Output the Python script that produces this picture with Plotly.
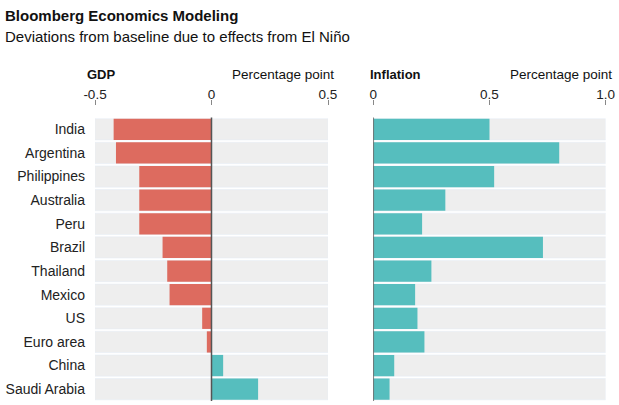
import plotly.graph_objects as go

countries = ["India", "Argentina", "Philippines", "Australia", "Peru", "Brazil",
             "Thailand", "Mexico", "US", "Euro area", "China", "Saudi Arabia"]
gdp = [-0.42, -0.41, -0.31, -0.31, -0.31, -0.21, -0.19, -0.18, -0.04, -0.02, 0.05, 0.20]
inflation = [0.50, 0.80, 0.52, 0.31, 0.21, 0.73, 0.25, 0.18, 0.19, 0.22, 0.09, 0.07]

gdp_range = [-0.5, 0.5]
infl_range = [0.0, 1.0]
gdp_ticks = [-0.5, 0, 0.5]
gdp_ticktext = ["-0.5", "0", "0.5"]
infl_ticks = [0, 0.5, 1.0]
infl_ticktext = ["0", "0.5", "1.0"]

RED = "#dd6b5f"
TEAL = "#56bebe"
GREY = "#eeeeee"
FONT = "Liberation Sans, Arial, sans-serif"
W, H = 619, 405

fig = go.Figure()
# background rows
fig.add_trace(go.Bar(y=countries, x=[gdp_range[1] - gdp_range[0]] * len(countries),
                     base=gdp_range[0], orientation="h", marker_color=GREY,
                     hoverinfo="skip", xaxis="x", yaxis="y"))
fig.add_trace(go.Bar(y=countries, x=[infl_range[1] - infl_range[0]] * len(countries),
                     base=infl_range[0], orientation="h", marker_color=GREY,
                     hoverinfo="skip", xaxis="x2", yaxis="y"))
fig.add_trace(go.Bar(y=countries, x=gdp, orientation="h",
                     marker=dict(color=[RED if v < 0 else TEAL for v in gdp], line_width=0),
                     xaxis="x", yaxis="y"))
fig.add_trace(go.Bar(y=countries, x=inflation, orientation="h",
                     marker=dict(color=TEAL, line_width=0), xaxis="x2", yaxis="y"))

top_paper = 105
bottom = 4
plot_top = 117.5
ydom_top = (H - bottom - plot_top) / (H - bottom - top_paper)

def px(x):
    return x / W

axis_common = dict(side="top", ticks="outside", ticklen=5, tickcolor="#888888",
                   tickwidth=1, showgrid=False, zeroline=False, showline=False,
                   anchor="free", position=1, automargin=False, ticklabelstandoff=-4,
                   tickfont=dict(family=FONT, size=13.5, color="#222222"))
fig.update_layout(
    width=W, height=H,
    margin=dict(l=0, r=0, t=top_paper, b=bottom, autoexpand=False),
    paper_bgcolor="white", plot_bgcolor="white",
    barmode="overlay", bargap=0.1, showlegend=False,
    font=dict(family=FONT, color="#222222"),
    xaxis=dict(domain=[px(95), px(328)], range=gdp_range, tickvals=gdp_ticks,
               ticktext=gdp_ticktext, **axis_common),
    xaxis2=dict(domain=[px(373.3), px(605.7)], range=infl_range, tickvals=infl_ticks,
                ticktext=infl_ticktext, **axis_common),
    yaxis=dict(domain=[0, ydom_top], autorange="reversed", showgrid=False,
               zeroline=False, showline=False, ticks="", ticklabelstandoff=9,
               automargin=False,
               tickfont=dict(family=FONT, size=14, color="#222222")),
)

for xr in ["x", "x2"]:
    fig.add_shape(type="line", xref=xr, yref="y domain", x0=0, x1=0, y0=0, y1=1,
                  line=dict(color="#555555", width=1.5))

ann = [
    dict(text="<b>Bloomberg Economics Modeling</b>", x=3, y=15, size=15, xanchor="left"),
    dict(text="Deviations from baseline due to effects from El Niño", x=3, y=37, size=15, xanchor="left"),
    dict(text="<b>GDP</b>", x=85, y=74.5, size=13, xanchor="left"),
    dict(text="Percentage point", x=336, y=74.5, size=13.5, xanchor="right"),
    dict(text="<b>Inflation</b>", x=368, y=74.5, size=13, xanchor="left"),
    dict(text="Percentage point", x=614, y=74.5, size=13.5, xanchor="right"),
]
for a in ann:
    fig.add_annotation(text=a["text"], xref="paper", yref="paper",
                       x=(a["x"]) / W, y=1 + (top_paper - a["y"]) / (H - top_paper - bottom),
                       xanchor=a["xanchor"], yanchor="middle", showarrow=False,
                       font=dict(family=FONT, size=a["size"], color="#111111"))

fig.write_html("out.html", config={"displayModeBar": False},
               post_script="document.body.style.margin='0';document.body.style.overflow='hidden';")
